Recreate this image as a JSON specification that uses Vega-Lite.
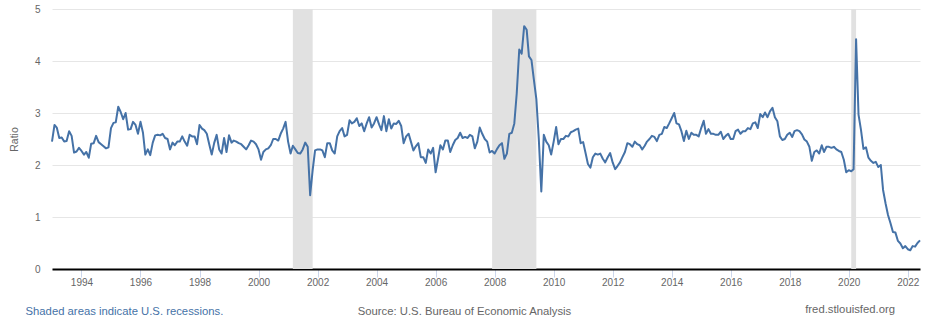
{
  "$schema": "https://vega.github.io/schema/vega-lite/v6.json",
  "width": 868,
  "height": 260,
  "autosize": {"type": "none"},
  "padding": {"left": 52, "top": 9, "right": 16, "bottom": 61},
  "background": "white",
  "config": {"view": {"stroke": null}, "font": "Liberation Sans"},
  "title": {
    "text": "fred.stlouisfed.org",
    "orient": "bottom",
    "anchor": "end",
    "frame": "group",
    "dx": -25,
    "offset": -12,
    "fontSize": 11.3,
    "fontWeight": "normal",
    "font": "Liberation Sans",
    "color": "#666666"
  },
  "datasets": {
    "recessions": [
      {"start": "2001-03-01", "end": "2001-11-01"},
      {"start": "2007-12-01", "end": "2009-06-01"},
      {"start": "2020-02-01", "end": "2020-04-01"}
    ],
    "series": [
      {"date":"1993-01-01","ratio":2.45},{"date":"1993-02-01","ratio":2.77},{"date":"1993-03-01","ratio":2.72},{"date":"1993-04-01","ratio":2.52},{"date":"1993-05-01","ratio":2.53},{"date":"1993-06-01","ratio":2.45},{"date":"1993-07-01","ratio":2.46},{"date":"1993-08-01","ratio":2.65},{"date":"1993-09-01","ratio":2.56},{"date":"1993-10-01","ratio":2.24},{"date":"1993-11-01","ratio":2.26},{"date":"1993-12-01","ratio":2.33},
      {"date":"1994-01-01","ratio":2.27},{"date":"1994-02-01","ratio":2.2},{"date":"1994-03-01","ratio":2.25},{"date":"1994-04-01","ratio":2.14},{"date":"1994-05-01","ratio":2.41},{"date":"1994-06-01","ratio":2.42},{"date":"1994-07-01","ratio":2.56},{"date":"1994-08-01","ratio":2.44},{"date":"1994-09-01","ratio":2.4},{"date":"1994-10-01","ratio":2.36},{"date":"1994-11-01","ratio":2.32},{"date":"1994-12-01","ratio":2.34},
      {"date":"1995-01-01","ratio":2.71},{"date":"1995-02-01","ratio":2.81},{"date":"1995-03-01","ratio":2.82},{"date":"1995-04-01","ratio":3.12},{"date":"1995-05-01","ratio":3.02},{"date":"1995-06-01","ratio":2.88},{"date":"1995-07-01","ratio":3.0},{"date":"1995-08-01","ratio":2.68},{"date":"1995-09-01","ratio":2.69},{"date":"1995-10-01","ratio":2.83},{"date":"1995-11-01","ratio":2.77},{"date":"1995-12-01","ratio":2.6},
      {"date":"1996-01-01","ratio":2.83},{"date":"1996-02-01","ratio":2.62},{"date":"1996-03-01","ratio":2.2},{"date":"1996-04-01","ratio":2.3},{"date":"1996-05-01","ratio":2.19},{"date":"1996-06-01","ratio":2.43},{"date":"1996-07-01","ratio":2.57},{"date":"1996-08-01","ratio":2.58},{"date":"1996-09-01","ratio":2.57},{"date":"1996-10-01","ratio":2.6},{"date":"1996-11-01","ratio":2.52},{"date":"1996-12-01","ratio":2.5},
      {"date":"1997-01-01","ratio":2.3},{"date":"1997-02-01","ratio":2.43},{"date":"1997-03-01","ratio":2.38},{"date":"1997-04-01","ratio":2.45},{"date":"1997-05-01","ratio":2.45},{"date":"1997-06-01","ratio":2.55},{"date":"1997-07-01","ratio":2.45},{"date":"1997-08-01","ratio":2.37},{"date":"1997-09-01","ratio":2.58},{"date":"1997-10-01","ratio":2.55},{"date":"1997-11-01","ratio":2.55},{"date":"1997-12-01","ratio":2.4},
      {"date":"1998-01-01","ratio":2.77},{"date":"1998-02-01","ratio":2.7},{"date":"1998-03-01","ratio":2.67},{"date":"1998-04-01","ratio":2.6},{"date":"1998-05-01","ratio":2.4},{"date":"1998-06-01","ratio":2.2},{"date":"1998-07-01","ratio":2.42},{"date":"1998-08-01","ratio":2.58},{"date":"1998-09-01","ratio":2.3},{"date":"1998-10-01","ratio":2.22},{"date":"1998-11-01","ratio":2.52},{"date":"1998-12-01","ratio":2.25},
      {"date":"1999-01-01","ratio":2.57},{"date":"1999-02-01","ratio":2.43},{"date":"1999-03-01","ratio":2.47},{"date":"1999-04-01","ratio":2.45},{"date":"1999-05-01","ratio":2.42},{"date":"1999-06-01","ratio":2.4},{"date":"1999-07-01","ratio":2.35},{"date":"1999-08-01","ratio":2.3},{"date":"1999-09-01","ratio":2.38},{"date":"1999-10-01","ratio":2.47},{"date":"1999-11-01","ratio":2.45},{"date":"1999-12-01","ratio":2.4},
      {"date":"2000-01-01","ratio":2.3},{"date":"2000-02-01","ratio":2.1},{"date":"2000-03-01","ratio":2.25},{"date":"2000-04-01","ratio":2.3},{"date":"2000-05-01","ratio":2.32},{"date":"2000-06-01","ratio":2.38},{"date":"2000-07-01","ratio":2.5},{"date":"2000-08-01","ratio":2.5},{"date":"2000-09-01","ratio":2.47},{"date":"2000-10-01","ratio":2.6},{"date":"2000-11-01","ratio":2.7},{"date":"2000-12-01","ratio":2.83},
      {"date":"2001-01-01","ratio":2.45},{"date":"2001-02-01","ratio":2.22},{"date":"2001-03-01","ratio":2.37},{"date":"2001-04-01","ratio":2.3},{"date":"2001-05-01","ratio":2.23},{"date":"2001-06-01","ratio":2.22},{"date":"2001-07-01","ratio":2.3},{"date":"2001-08-01","ratio":2.43},{"date":"2001-09-01","ratio":2.35},{"date":"2001-10-01","ratio":1.42},{"date":"2001-11-01","ratio":1.9},{"date":"2001-12-01","ratio":2.28},
      {"date":"2002-01-01","ratio":2.3},{"date":"2002-02-01","ratio":2.3},{"date":"2002-03-01","ratio":2.28},{"date":"2002-04-01","ratio":2.15},{"date":"2002-05-01","ratio":2.42},{"date":"2002-06-01","ratio":2.42},{"date":"2002-07-01","ratio":2.28},{"date":"2002-08-01","ratio":2.22},{"date":"2002-09-01","ratio":2.55},{"date":"2002-10-01","ratio":2.65},{"date":"2002-11-01","ratio":2.71},{"date":"2002-12-01","ratio":2.55},
      {"date":"2003-01-01","ratio":2.58},{"date":"2003-02-01","ratio":2.86},{"date":"2003-03-01","ratio":2.8},{"date":"2003-04-01","ratio":2.83},{"date":"2003-05-01","ratio":2.9},{"date":"2003-06-01","ratio":2.75},{"date":"2003-07-01","ratio":2.8},{"date":"2003-08-01","ratio":2.65},{"date":"2003-09-01","ratio":2.8},{"date":"2003-10-01","ratio":2.92},{"date":"2003-11-01","ratio":2.72},{"date":"2003-12-01","ratio":2.8},
      {"date":"2004-01-01","ratio":2.92},{"date":"2004-02-01","ratio":2.78},{"date":"2004-03-01","ratio":2.67},{"date":"2004-04-01","ratio":2.94},{"date":"2004-05-01","ratio":2.65},{"date":"2004-06-01","ratio":2.88},{"date":"2004-07-01","ratio":2.7},{"date":"2004-08-01","ratio":2.8},{"date":"2004-09-01","ratio":2.79},{"date":"2004-10-01","ratio":2.85},{"date":"2004-11-01","ratio":2.75},{"date":"2004-12-01","ratio":2.42},
      {"date":"2005-01-01","ratio":2.55},{"date":"2005-02-01","ratio":2.6},{"date":"2005-03-01","ratio":2.45},{"date":"2005-04-01","ratio":2.28},{"date":"2005-05-01","ratio":2.36},{"date":"2005-06-01","ratio":2.42},{"date":"2005-07-01","ratio":2.15},{"date":"2005-08-01","ratio":2.15},{"date":"2005-09-01","ratio":2.04},{"date":"2005-10-01","ratio":2.3},{"date":"2005-11-01","ratio":2.22},{"date":"2005-12-01","ratio":2.33},
      {"date":"2006-01-01","ratio":1.86},{"date":"2006-02-01","ratio":2.13},{"date":"2006-03-01","ratio":2.38},{"date":"2006-04-01","ratio":2.3},{"date":"2006-05-01","ratio":2.47},{"date":"2006-06-01","ratio":2.47},{"date":"2006-07-01","ratio":2.25},{"date":"2006-08-01","ratio":2.38},{"date":"2006-09-01","ratio":2.48},{"date":"2006-10-01","ratio":2.52},{"date":"2006-11-01","ratio":2.62},{"date":"2006-12-01","ratio":2.52},
      {"date":"2007-01-01","ratio":2.54},{"date":"2007-02-01","ratio":2.52},{"date":"2007-03-01","ratio":2.58},{"date":"2007-04-01","ratio":2.55},{"date":"2007-05-01","ratio":2.32},{"date":"2007-06-01","ratio":2.45},{"date":"2007-07-01","ratio":2.72},{"date":"2007-08-01","ratio":2.6},{"date":"2007-09-01","ratio":2.5},{"date":"2007-10-01","ratio":2.45},{"date":"2007-11-01","ratio":2.24},{"date":"2007-12-01","ratio":2.27},
      {"date":"2008-01-01","ratio":2.22},{"date":"2008-02-01","ratio":2.31},{"date":"2008-03-01","ratio":2.38},{"date":"2008-04-01","ratio":2.42},{"date":"2008-05-01","ratio":2.12},{"date":"2008-06-01","ratio":2.22},{"date":"2008-07-01","ratio":2.6},{"date":"2008-08-01","ratio":2.62},{"date":"2008-09-01","ratio":2.8},{"date":"2008-10-01","ratio":3.38},{"date":"2008-11-01","ratio":4.22},{"date":"2008-12-01","ratio":4.14},
      {"date":"2009-01-01","ratio":4.67},{"date":"2009-02-01","ratio":4.6},{"date":"2009-03-01","ratio":4.09},{"date":"2009-04-01","ratio":4.02},{"date":"2009-05-01","ratio":3.64},{"date":"2009-06-01","ratio":3.26},{"date":"2009-07-01","ratio":2.5},{"date":"2009-08-01","ratio":1.49},{"date":"2009-09-01","ratio":2.58},{"date":"2009-10-01","ratio":2.45},{"date":"2009-11-01","ratio":2.38},{"date":"2009-12-01","ratio":2.2},
      {"date":"2010-01-01","ratio":2.45},{"date":"2010-02-01","ratio":2.73},{"date":"2010-03-01","ratio":2.4},{"date":"2010-04-01","ratio":2.5},{"date":"2010-05-01","ratio":2.5},{"date":"2010-06-01","ratio":2.56},{"date":"2010-07-01","ratio":2.55},{"date":"2010-08-01","ratio":2.63},{"date":"2010-09-01","ratio":2.65},{"date":"2010-10-01","ratio":2.68},{"date":"2010-11-01","ratio":2.7},{"date":"2010-12-01","ratio":2.42},
      {"date":"2011-01-01","ratio":2.44},{"date":"2011-02-01","ratio":2.22},{"date":"2011-03-01","ratio":2.02},{"date":"2011-04-01","ratio":1.95},{"date":"2011-05-01","ratio":2.15},{"date":"2011-06-01","ratio":2.22},{"date":"2011-07-01","ratio":2.2},{"date":"2011-08-01","ratio":2.22},{"date":"2011-09-01","ratio":2.12},{"date":"2011-10-01","ratio":2.05},{"date":"2011-11-01","ratio":2.15},{"date":"2011-12-01","ratio":2.23},
      {"date":"2012-01-01","ratio":2.05},{"date":"2012-02-01","ratio":1.92},{"date":"2012-03-01","ratio":1.98},{"date":"2012-04-01","ratio":2.05},{"date":"2012-05-01","ratio":2.15},{"date":"2012-06-01","ratio":2.25},{"date":"2012-07-01","ratio":2.42},{"date":"2012-08-01","ratio":2.4},{"date":"2012-09-01","ratio":2.35},{"date":"2012-10-01","ratio":2.45},{"date":"2012-11-01","ratio":2.4},{"date":"2012-12-01","ratio":2.38},
      {"date":"2013-01-01","ratio":2.3},{"date":"2013-02-01","ratio":2.37},{"date":"2013-03-01","ratio":2.45},{"date":"2013-04-01","ratio":2.5},{"date":"2013-05-01","ratio":2.56},{"date":"2013-06-01","ratio":2.54},{"date":"2013-07-01","ratio":2.46},{"date":"2013-08-01","ratio":2.58},{"date":"2013-09-01","ratio":2.6},{"date":"2013-10-01","ratio":2.73},{"date":"2013-11-01","ratio":2.71},{"date":"2013-12-01","ratio":2.8},
      {"date":"2014-01-01","ratio":2.9},{"date":"2014-02-01","ratio":3.0},{"date":"2014-03-01","ratio":2.8},{"date":"2014-04-01","ratio":2.78},{"date":"2014-05-01","ratio":2.65},{"date":"2014-06-01","ratio":2.46},{"date":"2014-07-01","ratio":2.66},{"date":"2014-08-01","ratio":2.5},{"date":"2014-09-01","ratio":2.62},{"date":"2014-10-01","ratio":2.58},{"date":"2014-11-01","ratio":2.58},{"date":"2014-12-01","ratio":2.55},
      {"date":"2015-01-01","ratio":2.71},{"date":"2015-02-01","ratio":2.85},{"date":"2015-03-01","ratio":2.6},{"date":"2015-04-01","ratio":2.69},{"date":"2015-05-01","ratio":2.6},{"date":"2015-06-01","ratio":2.6},{"date":"2015-07-01","ratio":2.58},{"date":"2015-08-01","ratio":2.58},{"date":"2015-09-01","ratio":2.64},{"date":"2015-10-01","ratio":2.5},{"date":"2015-11-01","ratio":2.56},{"date":"2015-12-01","ratio":2.6},
      {"date":"2016-01-01","ratio":2.5},{"date":"2016-02-01","ratio":2.5},{"date":"2016-03-01","ratio":2.65},{"date":"2016-04-01","ratio":2.68},{"date":"2016-05-01","ratio":2.6},{"date":"2016-06-01","ratio":2.65},{"date":"2016-07-01","ratio":2.65},{"date":"2016-08-01","ratio":2.71},{"date":"2016-09-01","ratio":2.69},{"date":"2016-10-01","ratio":2.8},{"date":"2016-11-01","ratio":2.82},{"date":"2016-12-01","ratio":2.71},
      {"date":"2017-01-01","ratio":2.98},{"date":"2017-02-01","ratio":2.92},{"date":"2017-03-01","ratio":3.01},{"date":"2017-04-01","ratio":2.92},{"date":"2017-05-01","ratio":3.03},{"date":"2017-06-01","ratio":3.1},{"date":"2017-07-01","ratio":2.92},{"date":"2017-08-01","ratio":2.84},{"date":"2017-09-01","ratio":2.55},{"date":"2017-10-01","ratio":2.48},{"date":"2017-11-01","ratio":2.5},{"date":"2017-12-01","ratio":2.58},
      {"date":"2018-01-01","ratio":2.62},{"date":"2018-02-01","ratio":2.54},{"date":"2018-03-01","ratio":2.65},{"date":"2018-04-01","ratio":2.67},{"date":"2018-05-01","ratio":2.65},{"date":"2018-06-01","ratio":2.59},{"date":"2018-07-01","ratio":2.49},{"date":"2018-08-01","ratio":2.45},{"date":"2018-09-01","ratio":2.35},{"date":"2018-10-01","ratio":2.08},{"date":"2018-11-01","ratio":2.25},{"date":"2018-12-01","ratio":2.28},
      {"date":"2019-01-01","ratio":2.22},{"date":"2019-02-01","ratio":2.38},{"date":"2019-03-01","ratio":2.25},{"date":"2019-04-01","ratio":2.35},{"date":"2019-05-01","ratio":2.35},{"date":"2019-06-01","ratio":2.33},{"date":"2019-07-01","ratio":2.35},{"date":"2019-08-01","ratio":2.3},{"date":"2019-09-01","ratio":2.27},{"date":"2019-10-01","ratio":2.25},{"date":"2019-11-01","ratio":2.1},{"date":"2019-12-01","ratio":1.86},
      {"date":"2020-01-01","ratio":1.9},{"date":"2020-02-01","ratio":1.88},{"date":"2020-03-01","ratio":1.92},{"date":"2020-04-01","ratio":4.42},{"date":"2020-05-01","ratio":2.97},{"date":"2020-06-01","ratio":2.67},{"date":"2020-07-01","ratio":2.31},{"date":"2020-08-01","ratio":2.34},{"date":"2020-09-01","ratio":2.14},{"date":"2020-10-01","ratio":2.08},{"date":"2020-11-01","ratio":2.04},{"date":"2020-12-01","ratio":2.06},
      {"date":"2021-01-01","ratio":1.96},{"date":"2021-02-01","ratio":2.0},{"date":"2021-03-01","ratio":1.52},{"date":"2021-04-01","ratio":1.26},{"date":"2021-05-01","ratio":1.04},{"date":"2021-06-01","ratio":0.88},{"date":"2021-07-01","ratio":0.71},{"date":"2021-08-01","ratio":0.7},{"date":"2021-09-01","ratio":0.54},{"date":"2021-10-01","ratio":0.49},{"date":"2021-11-01","ratio":0.4},{"date":"2021-12-01","ratio":0.44},
      {"date":"2022-01-01","ratio":0.38},{"date":"2022-02-01","ratio":0.36},{"date":"2022-03-01","ratio":0.44},{"date":"2022-04-01","ratio":0.43},{"date":"2022-05-01","ratio":0.5},{"date":"2022-06-01","ratio":0.55}
    ]
  },
  "layer": [
    {
      "data": {"name": "recessions"},
      "mark": {"type": "rect", "color": "#e1e1e1"},
      "encoding": {
        "x": {
          "field": "start",
          "type": "temporal",
          "scale": {"domain": ["1993-01-01", "2022-06-01"], "nice": false},
          "axis": {
            "orient": "bottom",
            "labels": false,
            "ticks": false,
            "domain": false,
            "grid": false,
            "title": "Shaded areas indicate U.S. recessions.",
            "titleX": -27,
            "titleY": 45,
            "titleAlign": "left",
            "titleAnchor": "start",
            "titleBaseline": "alphabetic",
            "titleColor": "#4572a7",
            "titleFont": "Liberation Sans",
            "titleFontSize": 11.3,
            "titleFontWeight": "normal"
          }
        },
        "x2": {"field": "end"}
      }
    },
    {
      "data": {"name": "series"},
      "mark": {"type": "line", "color": "#4572a7", "strokeWidth": 2, "strokeJoin": "round"},
      "encoding": {
        "x": {
          "field": "date",
          "type": "temporal",
          "axis": {
            "orient": "bottom",
            "values": [{"year": 1994}, {"year": 1996}, {"year": 1998}, {"year": 2000}, {"year": 2002}, {"year": 2004}, {"year": 2006}, {"year": 2008}, {"year": 2010}, {"year": 2012}, {"year": 2014}, {"year": 2016}, {"year": 2018}, {"year": 2020}, {"year": 2022}],
            "format": "%Y",
            "labelFont": "Liberation Sans",
            "labelFontSize": 10,
            "labelColor": "#666666",
            "labelPadding": 0,
            "tickSize": 8,
            "tickColor": "#ccd6eb",
            "domainColor": "#000000",
            "domainWidth": 2,
            "grid": false,
            "title": "Source: U.S. Bureau of Economic Analysis",
            "titleX": 412,
            "titleY": 45,
            "titleAlign": "center",
            "titleBaseline": "alphabetic",
            "titleColor": "#666666",
            "titleFont": "Liberation Sans",
            "titleFontSize": 11.3,
            "titleFontWeight": "normal"
          }
        },
        "y": {
          "field": "ratio",
          "type": "quantitative",
          "scale": {"domain": [0, 5], "nice": false},
          "axis": {
            "values": [0, 1, 2, 3, 4, 5],
            "grid": true,
            "gridColor": "#e6e6e6",
            "domain": false,
            "ticks": false,
            "labelPadding": 12,
            "labelFont": "Liberation Sans",
            "labelFontSize": 10,
            "labelColor": "#666666",
            "title": "Ratio",
            "titleX": -38,
            "titleY": 130,
            "titleAngle": -90,
            "titleAlign": "center",
            "titleBaseline": "middle",
            "titleFont": "Liberation Sans",
            "titleFontSize": 10.5,
            "titleFontWeight": "normal",
            "titleColor": "#666666"
          }
        }
      }
    }
  ],
  "resolve": {"axis": {"x": "independent"}}
}
